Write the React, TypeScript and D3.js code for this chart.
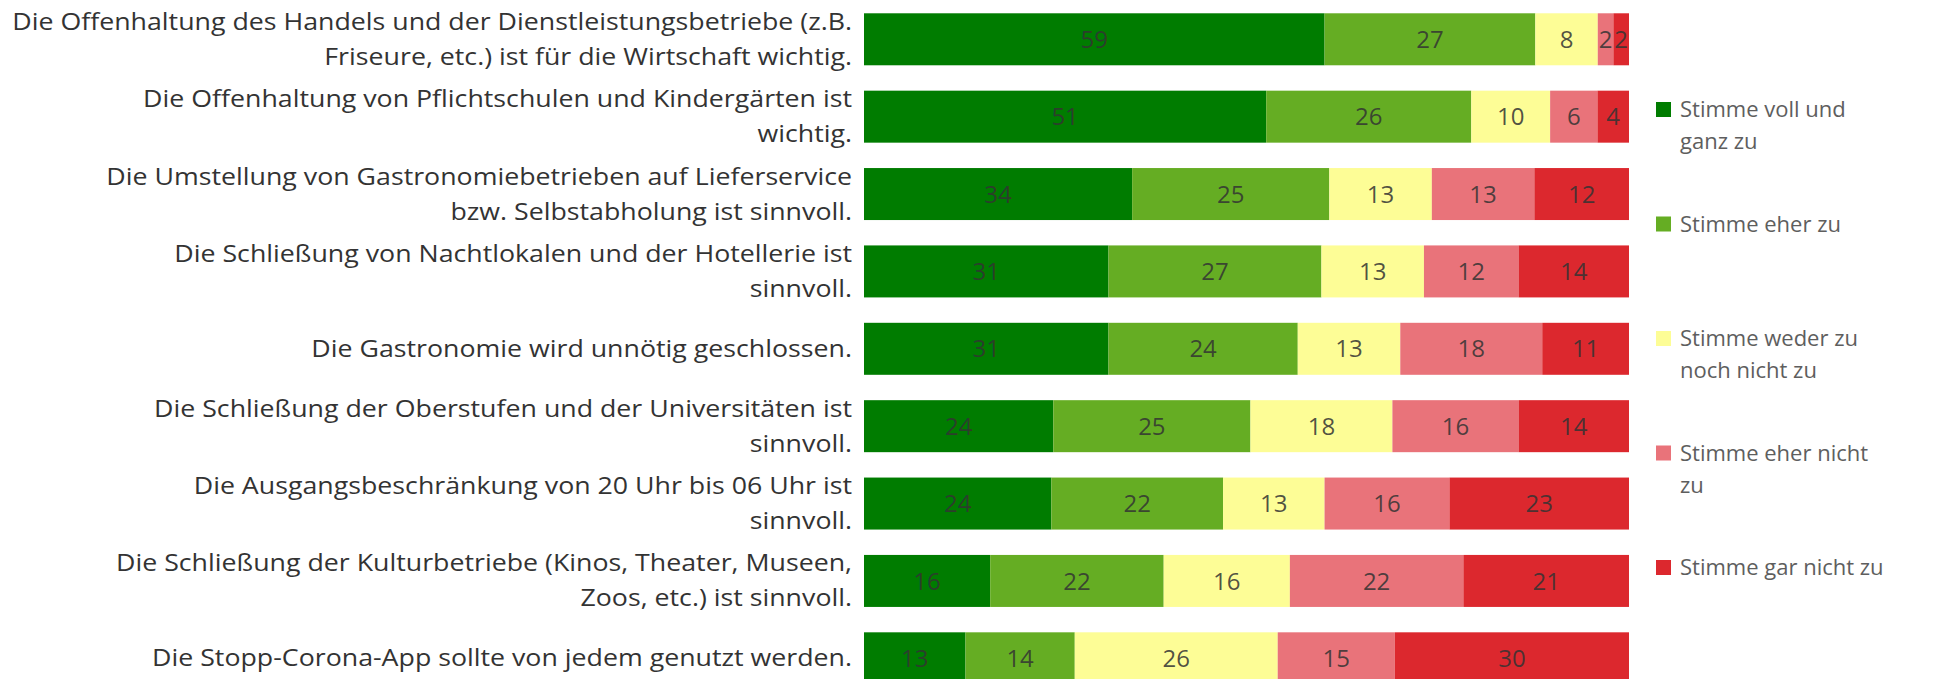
import React, { useEffect, useRef } from 'react';
import * as d3 from 'd3';

const statements = [
    ['Die Offenhaltung des Handels und der Dienstleistungsbetriebe (z.B.', 'Friseure, etc.) ist für die Wirtschaft wichtig.'],
    ['Die Offenhaltung von Pflichtschulen und Kindergärten ist', 'wichtig.'],
    ['Die Umstellung von Gastronomiebetrieben auf Lieferservice', 'bzw. Selbstabholung ist sinnvoll.'],
    ['Die Schließung von Nachtlokalen und der Hotellerie ist', 'sinnvoll.'],
    ['Die Gastronomie wird unnötig geschlossen.'],
    ['Die Schließung der Oberstufen und der Universitäten ist', 'sinnvoll.'],
    ['Die Ausgangsbeschränkung von 20 Uhr bis 06 Uhr ist', 'sinnvoll.'],
    ['Die Schließung der Kulturbetriebe (Kinos, Theater, Museen,', 'Zoos, etc.) ist sinnvoll.'],
    ['Die Stopp-Corona-App sollte von jedem genutzt werden.'],
];

const answers = ['Stimme voll und ganz zu', 'Stimme eher zu', 'Stimme weder zu noch nicht zu', 'Stimme eher nicht zu', 'Stimme gar nicht zu'];
const legendLines = [['Stimme voll und', 'ganz zu'], ['Stimme eher zu'], ['Stimme weder zu', 'noch nicht zu'], ['Stimme eher nicht', 'zu'], ['Stimme gar nicht zu']];

const vollGanz = [59, 51, 34, 31, 31, 24, 24, 16, 13];
const eher = [27, 26, 25, 27, 24, 25, 22, 22, 14];
const weder = [8, 10, 13, 13, 13, 18, 13, 16, 26];
const eherNicht = [2, 6, 13, 12, 18, 16, 16, 22, 15];
const garNicht = [2, 4, 12, 14, 11, 14, 23, 21, 30];

const colors = ['#007c00', '#65ad23', '#fdfd96', '#e9737a', '#dc282e'];

export default function App() {
    const ref = useRef<SVGSVGElement>(null);

    useEffect(() => {
        if (!ref.current) return;
        const width = 1941;
        const height = 679;
        const svg = d3.select(ref.current);
        svg.selectAll('*').remove();
        svg.attr('width', width).attr('height', height);

        const series = [vollGanz, eher, weder, eherNicht, garNicht];
        const rows = statements.map((s, i) => {
            const r: any = { key: i };
            answers.forEach((a, j) => { r[a] = series[j][i]; });
            return r;
        });

        const stacked = d3.stack().keys(answers).offset(d3.stackOffsetExpand)(rows);

        const x = d3.scaleLinear().domain([0, 1]).range([864, 1629]);
        const y = d3.scaleBand<number>()
            .domain(rows.map(r => r.key))
            .range([0.6, 697])
            .paddingInner(0.328)
            .paddingOuter(0.164);

        const font = "'Open Sans', sans-serif";

        // Bars
        const layer = svg.selectAll('g.layer')
            .data(stacked)
            .enter()
            .append('g')
            .attr('class', 'layer')
            .attr('fill', (d, i) => colors[i]);

        layer.selectAll('rect')
            .data(d => d)
            .enter()
            .append('rect')
            .attr('x', d => x(d[0]))
            .attr('y', d => y((d.data as any).key)!)
            .attr('width', d => x(d[1]) - x(d[0]))
            .attr('height', y.bandwidth());

        // Values
        layer.selectAll('text')
            .data((d, i) => d.map(s => ({ s, v: series[i][(s.data as any).key] })))
            .enter()
            .append('text')
            .attr('x', d => (x(d.s[0]) + x(d.s[1])) / 2)
            .attr('y', d => y((d.s.data as any).key)! + y.bandwidth() / 2)
            .attr('dy', '0.36em')
            .attr('text-anchor', 'middle')
            .attr('font-family', font)
            .attr('font-size', 24)
            .attr('fill', '#333')
            .attr('fill-opacity', 0.85)
            .text(d => d.v);

        // Statement labels (the source text is stretched horizontally)
        const labels = svg.append('g')
            .attr('transform', 'translate(852,0) scale(1.163,1)')
            .attr('font-family', font)
            .attr('font-size', 23)
            .attr('fill', '#333')
            .attr('text-anchor', 'end');

        statements.forEach((lines, i) => {
            const cy = y(i)! + y.bandwidth() / 2 + 8;
            const lh = 35;
            lines.forEach((line, k) => {
                labels.append('text')
                    .attr('x', 0)
                    .attr('y', cy + (k - (lines.length - 1) / 2) * lh)
                    .text(line);
            });
        });

        // Legend
        const legend = svg.append('g')
            .attr('font-family', font)
            .attr('font-size', 22)
            .attr('fill', '#5e5e5e');

        legendLines.forEach((lines, i) => {
            const base = 117 + i * 114.5;
            legend.append('rect')
                .attr('x', 1656)
                .attr('y', base - 15)
                .attr('width', 15)
                .attr('height', 15)
                .attr('fill', colors[i]);
            lines.forEach((line, k) => {
                legend.append('text')
                    .attr('x', 1680)
                    .attr('y', base + k * 32)
                    .text(line);
            });
        });
    }, []);

    return <svg ref={ref} style={{ position: 'absolute', left: 0, top: 0 }} />;
}
